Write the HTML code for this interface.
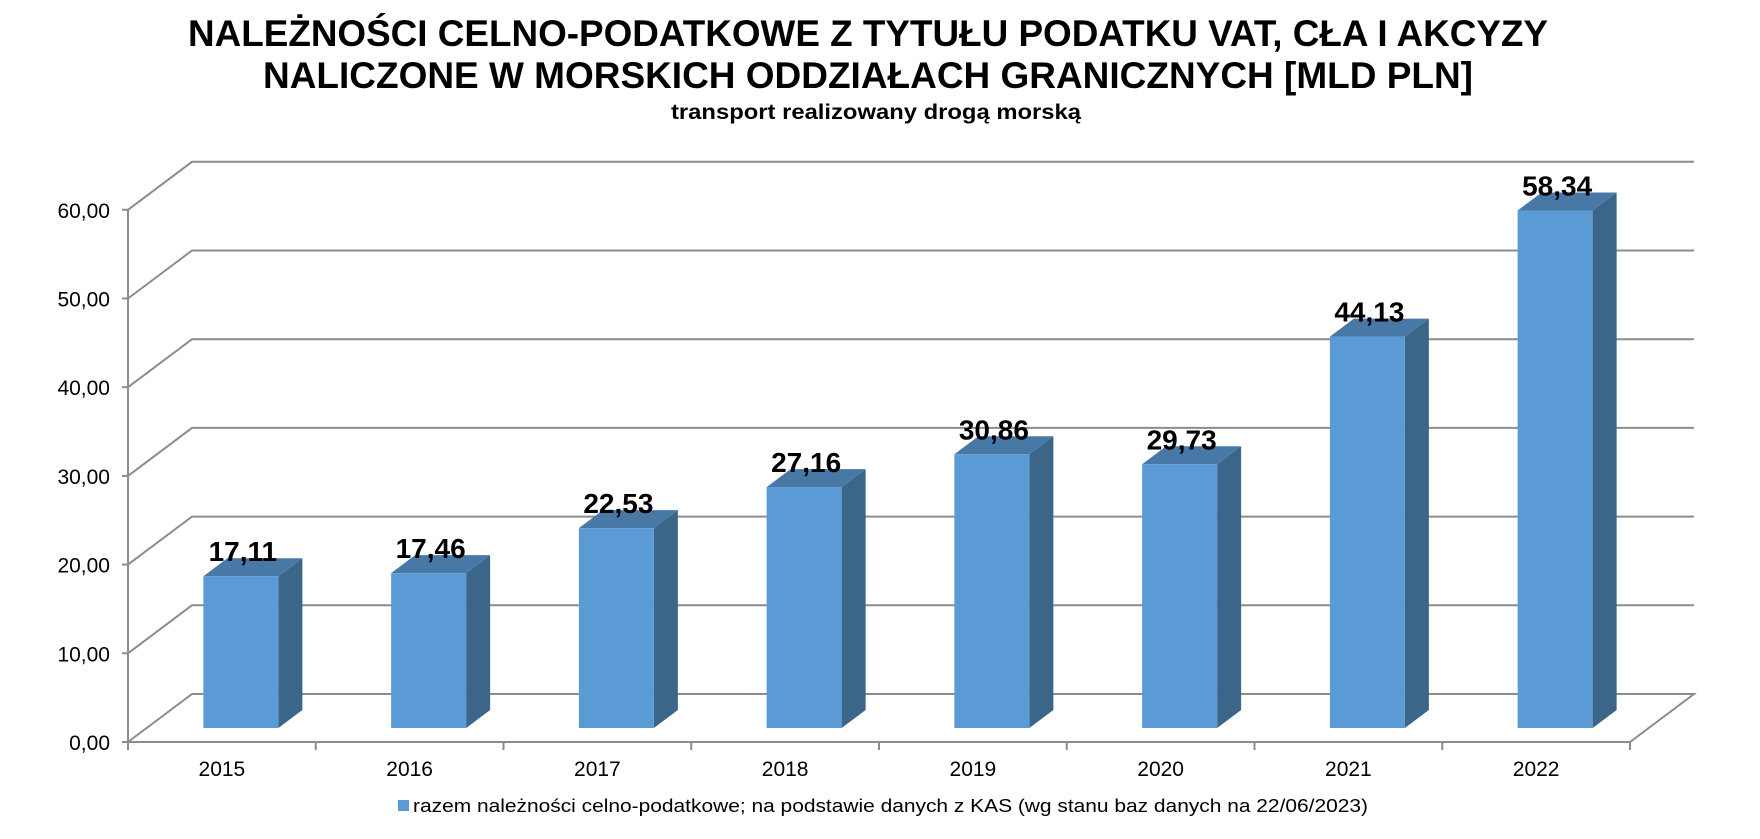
<!DOCTYPE html>
<html><head><meta charset="utf-8"><style>
html,body{margin:0;padding:0;background:#fff;}
svg{display:block;font-family:"Liberation Sans",Arial,sans-serif;}
</style></head><body>
<svg width="1760" height="839" viewBox="0 0 1760 839" xmlns="http://www.w3.org/2000/svg">
<rect width="1760" height="839" fill="#fff"/>
<text x="868" y="46" font-size="37" font-weight="bold" text-anchor="middle" textLength="1360" lengthAdjust="spacingAndGlyphs">NALEŻNOŚCI CELNO-PODATKOWE Z TYTUŁU PODATKU VAT, CŁA I AKCYZY</text>
<text x="868" y="88" font-size="37" font-weight="bold" text-anchor="middle" textLength="1210" lengthAdjust="spacingAndGlyphs">NALICZONE W MORSKICH ODDZIAŁACH GRANICZNYCH [MLD PLN]</text>
<text x="876" y="119" font-size="21" font-weight="bold" text-anchor="middle" textLength="410" lengthAdjust="spacingAndGlyphs">transport realizowany drogą morską</text>
<g id="grid" stroke="#8c8c8c" stroke-width="2" fill="none"></g>
<g id="bars"></g>
<g id="labels"></g>
<rect x="398" y="800" width="11" height="11" fill="#5B9BD5"/>
<text x="413" y="812" font-size="18" textLength="955" lengthAdjust="spacingAndGlyphs">razem należności celno-podatkowe; na podstawie danych z KAS (wg stanu baz danych na 22/06/2023)</text>
<script>
(function(){
var ns="http://www.w3.org/2000/svg";
function el(p,t,a,txt){var e=document.createElementNS(ns,t);for(var k in a)e.setAttribute(k,a[k]);if(txt!==undefined)e.textContent=txt;p.appendChild(e);return e;}
var g=document.getElementById('grid'),b=document.getElementById('bars'),l=document.getElementById('labels');
var X0=128,X1=1630,Y0=742,s=8.87,dx=64,dy=-48;
for(var v=0;v<=60;v+=10){
 var yf=Y0-v*s, yb=yf+dy;
 if(v>0) el(g,'polyline',{points:X0+','+yf+' '+(X0+dx)+','+yb+' '+(X1+dx)+','+yb});
 else el(g,'polyline',{points:X0+','+yf+' '+(X0+dx)+','+yb+' '+(X1+dx)+','+yb+' '+X1+','+Y0+' '+X0+','+Y0});
 el(g,'line',{x1:X0-6,y1:yf,x2:X0,y2:yf});
 el(l,'text',{x:X0-18,y:yf+8,'font-size':21,'text-anchor':'end'},v+',00');
}
el(g,'line',{x1:X0,y1:Y0-60*s,x2:X0,y2:Y0});
var W=(X1-X0)/8;
for(var i=0;i<=8;i++){var x=X0+W*i;el(g,'line',{x1:x,y1:Y0,x2:x,y2:Y0+8});}
var vals=[17.11,17.46,22.53,27.16,30.86,29.73,44.13,58.34],yrs=[2015,2016,2017,2018,2019,2020,2021,2022];
for(var i=0;i<8;i++){
 var cx=X0+W*(i+0.5)+19,x1=cx-37.5,x2=cx+37.5,yb=728,yt=728-vals[i]*s,ox=24,oy=-18;
 el(b,'polygon',{points:x2+','+yb+' '+(x2+ox)+','+(yb+oy)+' '+(x2+ox)+','+(yt+oy)+' '+x2+','+yt,fill:'#3B6589'});
 el(b,'polygon',{points:x1+','+yt+' '+(x1+ox)+','+(yt+oy)+' '+(x2+ox)+','+(yt+oy)+' '+x2+','+yt,fill:'#4778A6'});
 el(b,'rect',{x:x1,y:yt,width:75,height:yb-yt,fill:'#5B9BD5'});
 el(l,'text',{x:cx+2,y:yt+oy+3,'font-size':28,'font-weight':'bold','text-anchor':'middle'},vals[i].toFixed(2).replace('.',','));
 el(l,'text',{x:X0+W*(i+0.5),y:776,'font-size':21,'text-anchor':'middle'},yrs[i]);
}
})();
</script>
</svg>
</body></html>
